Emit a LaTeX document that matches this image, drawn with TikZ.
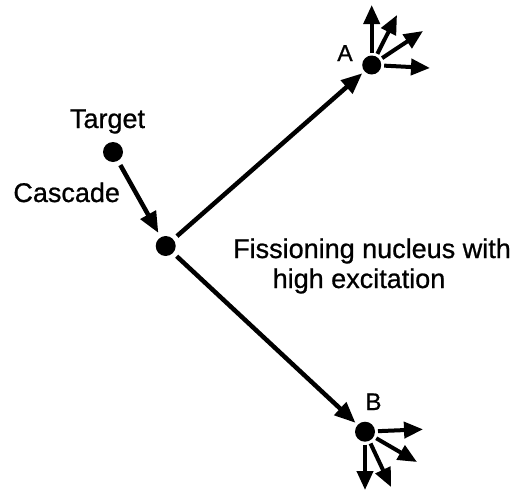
\documentclass[tikz,border=0pt]{standalone}
\usepackage{fontspec}
\setmainfont[FakeBold=0.8]{Liberation Sans}
\usetikzlibrary{arrows.meta}
\begin{document}
\begin{tikzpicture}[x=1pt,y=-1pt,
  dot/.style={circle,fill=black,inner sep=0pt,minimum size=#1,outer sep=5pt},
  lbl/.style={anchor=base,inner sep=0pt,font=\fontsize{27}{30}\selectfont},
  main/.style={line width=4.5pt,-{Triangle[length=21pt,width=17pt]}},
  spray/.style={line width=4pt,-{Triangle[length=19pt,width=16pt]}}]
\useasboundingbox (0,0) rectangle (529,490);
\node[dot=20pt] (t) at (113,152) {};
\node[dot=20pt] (m) at (165.7,246) {};
\node[dot=19pt,outer sep=3pt] (a) at (371.7,65) {};
\node[dot=20pt,outer sep=3pt] (b) at (365,431.7) {};
\node[lbl] (tl) at (107.5,128) {Target};
\node[lbl] (cl) at (66.7,202) {Cascade};
\node[lbl] (f1) at (372,258) {Fissioning nucleus with};
\node[lbl] (f2) at (359,288) {high excitation};
\node[lbl,font=\fontsize{23}{26}\selectfont] (al) at (345,61) {A};
\node[lbl,font=\fontsize{24}{27}\selectfont] (bl) at (373.5,410) {B};
\draw[main] (t) -- (m);
\draw[main] (m) -- (a);
\draw[main] (m) -- (b);
\coordinate (a1) at (371.7,5);
\coordinate (a2) at (397,15);
\coordinate (a3) at (423,31);
\coordinate (a4) at (430,68);
\coordinate (b1) at (423,429.3);
\coordinate (b2) at (417,462);
\coordinate (b3) at (365,490);
\coordinate (b4) at (391,487);
\foreach \p in {a1,a2,a3,a4} \draw[spray] (a) -- (\p);
\foreach \p in {b1,b2,b3,b4} \draw[spray] (b) -- (\p);
\end{tikzpicture}
\end{document}
